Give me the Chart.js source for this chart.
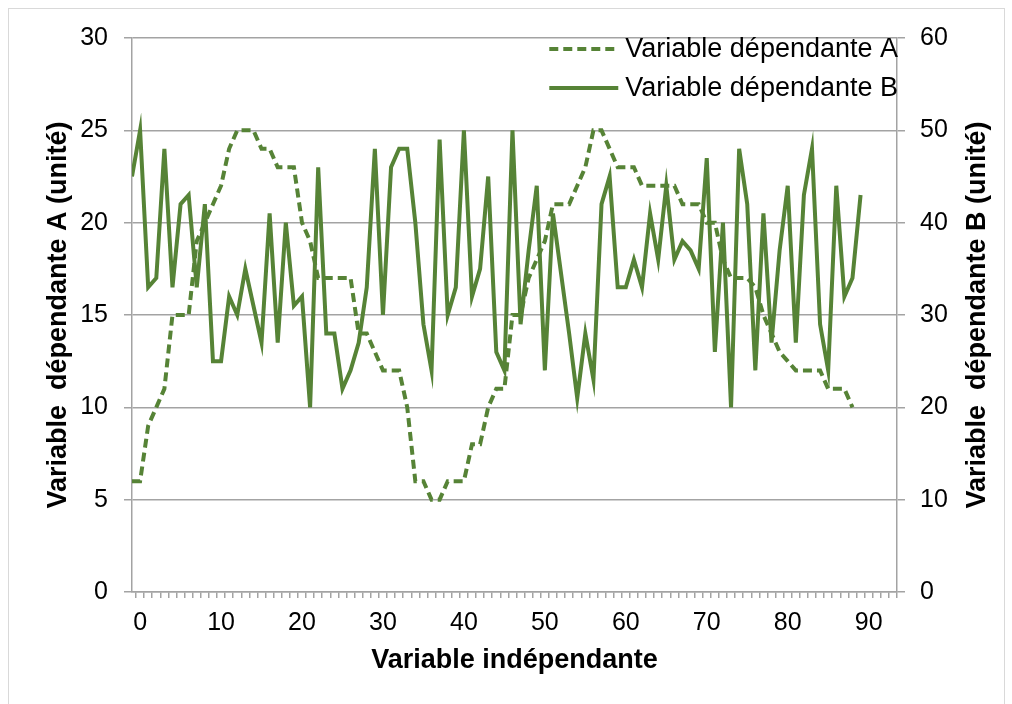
<!DOCTYPE html>
<html>
<head>
<meta charset="utf-8">
<script src="https://cdn.jsdelivr.net/npm/chart.js@4/dist/chart.umd.min.js"></script>
<style>
  html, body { margin: 0; padding: 0; background: #fff; overflow: hidden; }
  #wrap { position: relative; width: 1012px; height: 704px; }
  #frame { position: absolute; left: 8px; top: 8px; width: 995px; height: 720px; border: 1px solid #d9d9d9; pointer-events: none; }
  canvas { position: absolute; left: 0; top: 0; }
</style>
</head>
<body>
<div id="wrap">
  <canvas id="chart" width="1012" height="704"></canvas>
  <div id="frame"></div>
</div>
<script>
// x values (variable indépendante)
const xValues = [-1, 0, 1, 2, 3, 4, 5, 6, 7, 8, 9, 10, 11, 12, 13, 14, 15, 16, 17, 18, 19, 20,
  21, 22, 23, 24, 25, 26, 27, 28, 29, 30, 31, 32, 33, 34, 35, 36, 37, 38, 39, 40,
  41, 42, 43, 44, 45, 46, 47, 48, 49, 50, 51, 52, 53, 54, 55, 56, 57, 58, 59, 60,
  61, 62, 63, 64, 65, 66, 67, 68, 69, 70, 71, 72, 73, 74, 75, 76, 77, 78, 79, 80,
  81, 82, 83, 84, 85, 86, 87, 88, 89];

// Variable dépendante A (left axis), x = -1 .. 88
const seriesA = [6, 6, 9, 10, 11, 15, 15, 15, 19, 20,
  21, 22, 24, 25, 25, 25, 24, 24, 23, 23,
  23, 20, 19, 17, 17, 17, 17, 17, 14, 14,
  13, 12, 12, 12, 10, 6, 6, 5, 5, 6,
  6, 6, 8, 8, 10, 11, 11, 15, 15, 17,
  18, 19, 21, 21, 21, 22, 23, 25, 25, 24,
  23, 23, 23, 22, 22, 22, 22, 22, 21, 21,
  21, 20, 20, 18, 17, 17, 17, 16.5, 15, 14,
  13, 12.5, 12, 12, 12, 12, 11, 11, 11, 10];

// Variable dépendante B (right axis), x = -1 .. 89
const seriesB = [45, 50, 33, 34, 48, 33, 42, 43, 33, 42,
  25, 25, 32, 30, 35, 31, 27, 41, 27, 40,
  31, 32, 20, 46, 28, 28, 22, 24, 27, 33,
  48, 30, 46, 48, 48, 40, 29, 24, 49, 30,
  33, 50, 32, 35, 45, 26, 24, 50, 29, 37,
  44, 24, 41, 34.5, 28, 21, 28, 23, 42, 45,
  33, 33, 36, 33, 41, 36, 44, 36, 38, 37,
  35, 47, 26, 40, 20, 48, 42, 24, 41, 27,
  37, 44, 27, 43, 48, 29, 24, 44, 32, 34,
  43];

const xTickLabels = [0, 10, 20, 30, 40, 50, 60, 70, 80, 90];
const labelA = 'Variable dépendante A';
const labelB = 'Variable dépendante B';
const titleX = 'Variable indépendante';
const titleYA = 'Variable  dépendante A (unité)';
const titleYB = 'Variable  dépendante B (unité)';

const green = '#568336';
const gridGray = '#a3a3a3';
const fontFamily = "'Liberation Sans', Arial, sans-serif";

// every unit gets a small tick mark on the x axis
const xMinorTicks = [];
for (let v = -1; v <= 93; v++) xMinorTicks.push(v);

// legend drawn inside the plot, top right (like the original)
const insideLegend = {
  id: 'insideLegend',
  afterDraw(chart) {
    const ctx = chart.ctx;
    const area = chart.chartArea;
    ctx.save();
    ctx.font = '27px ' + fontFamily;
    ctx.textBaseline = 'middle';
    ctx.textAlign = 'left';
    let maxW = 0;
    chart.data.datasets.forEach(ds => { maxW = Math.max(maxW, ctx.measureText(ds.label).width); });
    const textLeft = area.right - maxW + 1;
    const rows = [area.top + 11, area.top + 50];
    chart.data.datasets.forEach((ds, i) => {
      const y = rows[i];
      ctx.strokeStyle = ds.borderColor;
      ctx.lineWidth = ds.borderWidth;
      ctx.setLineDash(ds.borderDash || []);
      ctx.beginPath();
      ctx.moveTo(textLeft - 76, y);
      ctx.lineTo(textLeft - 7, y);
      ctx.stroke();
      ctx.setLineDash([]);
      ctx.fillStyle = '#000';
      ctx.fillText(ds.label, textLeft, y + 1);
    });
    ctx.restore();
  }
};

// right axis title reads bottom-to-top like the left one
const rightTitle = {
  id: 'rightTitle',
  afterDraw(chart) {
    const ctx = chart.ctx;
    const area = chart.chartArea;
    ctx.save();
    ctx.translate(978, (area.top + area.bottom) / 2);
    ctx.rotate(-Math.PI / 2);
    ctx.font = 'bold 27px ' + fontFamily;
    ctx.fillStyle = '#000';
    ctx.textAlign = 'center';
    ctx.textBaseline = 'middle';
    ctx.fillText(titleYB, 0, 0);
    ctx.restore();
  }
};

new Chart(document.getElementById('chart'), {
  type: 'line',
  data: {
    datasets: [{
      label: labelA,
      data: seriesA.map((v, i) => ({x: xValues[i], y: v})),
      yAxisID: 'y',
      borderColor: green,
      backgroundColor: green,
      borderWidth: 4,
      borderDash: [9, 5],
      pointRadius: 0,
      tension: 0,
      fill: false
    }, {
      label: labelB,
      data: seriesB.map((v, i) => ({x: xValues[i], y: v})),
      yAxisID: 'y1',
      borderColor: green,
      backgroundColor: green,
      borderWidth: 4,
      pointRadius: 0,
      tension: 0,
      fill: false
    }]
  },
  options: {
    responsive: false,
    animation: false,
    devicePixelRatio: 1,
    layout: { padding: { left: 36, right: 8, top: 38, bottom: 23 } },
    plugins: {
      legend: { display: false },
      tooltip: { enabled: false }
    },
    scales: {
      x: {
        type: 'linear',
        min: -1,
        max: 93.5,
        afterBuildTicks: scale => { scale.ticks = xMinorTicks.map(v => ({value: v})); },
        afterFit: scale => { scale.height = 89; },
        grid: { drawOnChartArea: false, offset: true, tickLength: 6, color: gridGray, lineWidth: 1.5 },
        border: { display: true, color: gridGray, width: 1.5 },
        ticks: {
          autoSkip: false,
          maxRotation: 0,
          padding: 10,
          color: '#000',
          font: { family: fontFamily, size: 25 },
          callback: v => xTickLabels.includes(v) ? String(v) : ''
        },
        title: {
          display: true,
          text: titleX,
          color: '#000',
          padding: { top: 0, bottom: 4 },
          font: { family: fontFamily, size: 27, weight: 'bold' }
        }
      },
      y: {
        position: 'left',
        min: 0,
        max: 30,
        afterFit: scale => { scale.width = 96; },
        grid: { color: gridGray, lineWidth: 1.5, tickLength: 8 },
        border: { display: true, color: gridGray, width: 1.5 },
        ticks: {
          stepSize: 5,
          padding: 16,
          color: '#000',
          font: { family: fontFamily, size: 25 }
        },
        title: {
          display: true,
          text: titleYA,
          color: '#000',
          padding: { top: 6, bottom: 0 },
          font: { family: fontFamily, size: 27, weight: 'bold' }
        }
      },
      y1: {
        position: 'right',
        min: 0,
        max: 60,
        afterFit: scale => { scale.width = 107; },
        grid: { drawOnChartArea: false, color: gridGray, lineWidth: 1.5, tickLength: 8 },
        border: { display: true, color: gridGray, width: 1.5 },
        ticks: {
          stepSize: 10,
          padding: 15,
          color: '#000',
          font: { family: fontFamily, size: 25 }
        }
      }
    }
  },
  plugins: [insideLegend, rightTitle]
});
</script>
</body>
</html>
